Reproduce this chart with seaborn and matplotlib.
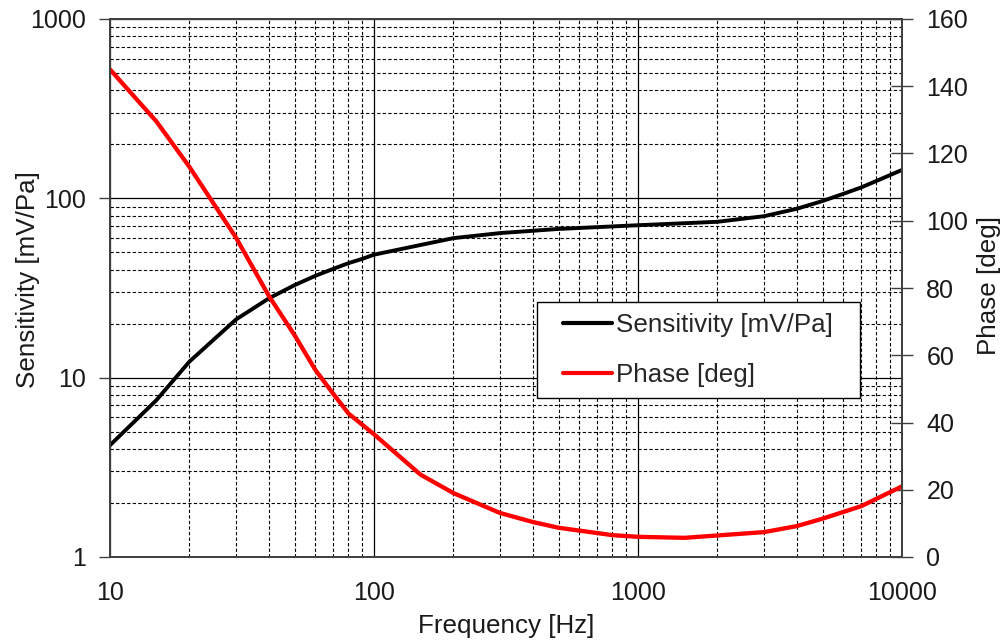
import matplotlib
matplotlib.use("Agg")
import matplotlib.pyplot as plt
import matplotlib.ticker as mticker
from matplotlib.lines import Line2D
from matplotlib.legend_handler import HandlerLine2D
import seaborn as sns
import pandas as pd

# ---- data ----
freq_sens = [10, 15, 20, 30, 40, 50, 60, 70, 80, 90, 100, 200, 300, 500,
             1000, 2000, 3000, 4000, 5000, 6000, 7000, 8000, 10000]
sensitivity = [4.2, 7.5, 12.3, 21.1, 27.7, 32.8, 37.0, 40.4, 43.5, 45.9, 48.5,
               60.0, 64.0, 67.5, 70.8, 74.0, 79.5, 87.5, 96.6, 106.0, 115.0, 125.0, 144.0]

freq_phase = [10, 15, 20, 30, 40, 50, 60, 70, 80, 100, 150, 200, 300, 400, 500,
              800, 1000, 1500, 3000, 4000, 5000, 7000, 10000]
phase = [145.0, 129.5, 116.0, 95.0, 77.6, 66.0, 55.6, 48.6, 42.7, 36.5, 24.5, 19.0,
         13.1, 10.4, 8.7, 6.5, 6.0, 5.7, 7.4, 9.2, 11.4, 15.1, 21.0]

x_ticks = [10, 100, 1000, 10000]
y_ticks = [1, 10, 100, 1000]
phase_ticks = [0, 20, 40, 60, 80, 100, 120, 140, 160]

label_sens = "Sensitivity [mV/Pa]"
label_phase = "Phase [deg]"
label_freq = "Frequency [Hz]"

df_s = pd.DataFrame({"f": freq_sens, "s": sensitivity})
df_p = pd.DataFrame({"f": freq_phase, "p": phase})

sns.set_style("white")
plt.rcParams["font.family"] = ["Liberation Sans", "DejaVu Sans"]
fs_tick = 18
fs_lab = 18.7
txt_col = "#1a1a1a"

fig = plt.figure(figsize=(10.06, 6.44), dpi=100)
ax1 = fig.add_axes([110 / 1006, (644 - 557) / 644, 792 / 1006, 538 / 644])
ax2 = ax1.twinx()

sns.lineplot(data=df_s, x="f", y="s", ax=ax1, color="black", linewidth=2.8,
             estimator=None, sort=False)
sns.lineplot(data=df_p, x="f", y="p", ax=ax2, color="#ff0000", linewidth=3.1,
             estimator=None, sort=False)

ax1.set_xscale("log")
ax1.set_yscale("log")
ax1.set_xlim(10, 10000)
ax1.set_ylim(1, 1000)
ax2.set_ylim(0, 160)

ax1.xaxis.set_major_locator(mticker.FixedLocator(x_ticks))
ax1.xaxis.set_major_formatter(mticker.FixedFormatter([str(v) for v in x_ticks]))
ax1.xaxis.set_minor_locator(mticker.LogLocator(base=10, subs=range(2, 10)))
ax1.xaxis.set_minor_formatter(mticker.NullFormatter())
ax1.yaxis.set_major_locator(mticker.FixedLocator(y_ticks))
ax1.yaxis.set_major_formatter(mticker.FixedFormatter([str(v) for v in y_ticks]))
ax1.yaxis.set_minor_locator(mticker.LogLocator(base=10, subs=range(2, 10)))
ax1.yaxis.set_minor_formatter(mticker.NullFormatter())
ax2.yaxis.set_major_locator(mticker.FixedLocator(phase_ticks))

ax1.grid(True, which="major", color="black", linewidth=0.9, linestyle="-")
ax1.grid(True, which="minor", color="black", linewidth=0.8, linestyle=(0, (3, 2)))
ax2.grid(False)

ax1.tick_params(axis="both", which="major", direction="out", length=8, width=1,
                color="#404040", labelsize=fs_tick, labelcolor=txt_col)
ax1.tick_params(axis="y", which="major", pad=9, right=False)
ax1.tick_params(axis="x", which="major", pad=9, top=False)
ax1.tick_params(which="minor", length=0)
ax2.tick_params(axis="y", which="major", direction="inout", length=16, width=1,
                color="#404040", labelsize=fs_tick, labelcolor=txt_col, pad=9.5)

for ax in (ax1, ax2):
    for sp in ax.spines.values():
        sp.set_visible(True)
        sp.set_color("#404040")
        sp.set_linewidth(1.3)

ax1.set_xlabel(label_freq, fontsize=fs_lab, color=txt_col)
ax1.set_ylabel(label_sens, fontsize=fs_lab, color=txt_col)
ax2.set_ylabel(label_phase, fontsize=fs_lab, color=txt_col)
ax1.xaxis.set_label_coords(0.5, -0.106)
ax1.yaxis.set_label_coords((40 - 110) / 792, 0.515)
ax2.yaxis.set_label_coords((977 - 110) / 792, 0.505)

handles = [Line2D([0], [0], color="black", linewidth=3),
           Line2D([0], [0], color="#ff0000", linewidth=3)]
fpx = fs_lab * 100 / 72
bp = 0.45
xpad = (563 - 537 - bp * fpx) / fpx
hl = (612 - 537 - bp * fpx) / fpx
leg = ax2.legend(handles, [label_sens, label_phase], loc="upper left",
                 bbox_to_anchor=(0.5395, 0.0, (860 - 537.3) / 792, 0.4745),
                 mode="expand", fontsize=fs_lab, frameon=True,
                 fancybox=False, framealpha=1, edgecolor="black",
                 handlelength=hl, handletextpad=0.15, borderpad=bp,
                 labelspacing=0.97, borderaxespad=0,
                 handler_map={Line2D: HandlerLine2D(xpad=xpad)})
leg.get_frame().set_linewidth(1.0)

fig.savefig("out.png", dpi=100)
